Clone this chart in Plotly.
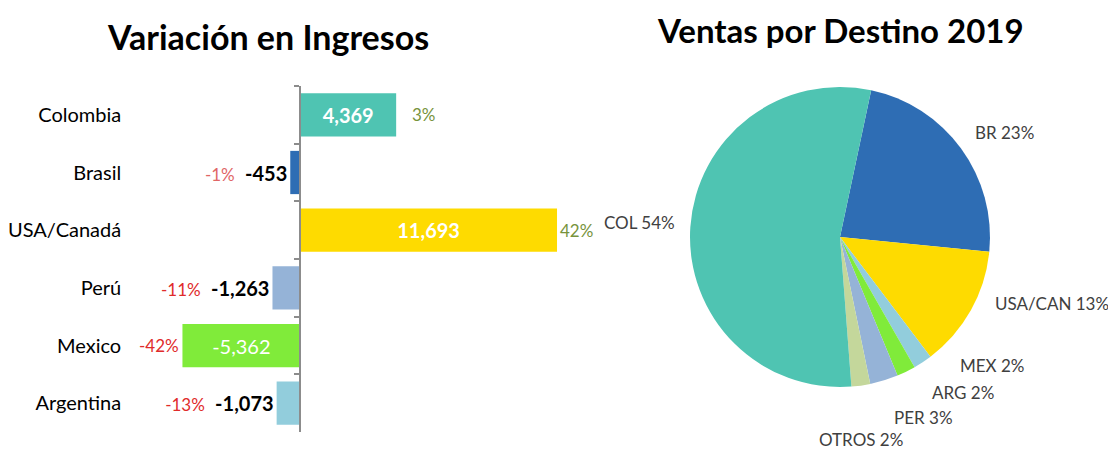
import math
import plotly.graph_objects as go

# ---- data: variación en ingresos ----
paises = ["Colombia", "Brasil", "USA/Canadá", "Perú", "Mexico", "Argentina"]
variacion = [4369, -453, 11693, -1263, -5362, -1073]
variacion_pct = [3, -1, 42, -11, -42, -13]
colores_bar = ["#4fc4b2", "#2e6db4", "#fedb00", "#95b3d7", "#80eb3a", "#92cddc"]

# ---- data: ventas por destino 2019 ----
destinos = ["BR", "USA/CAN", "MEX", "ARG", "PER", "OTROS", "COL"]
ventas_pct = [23, 13, 2, 2, 3, 2, 54]
colores_pie = ["#2e6db4", "#fedb00", "#92cddc", "#80eb3a", "#95b3d7", "#c4d79b", "#4fc4b2"]

W, H = 1116, 449
OFF = 8  # page body margin pushes the figure right/down
FONT = "Lato"
GREEN_TXT = "#77933c"
RED_TXT = "#e02b2b"


def px(x):
    return (x - OFF) / W


def py(y):
    return 1 - (y - OFF) / H


# which value labels sit inside the bar
inside = [abs(v) > 2000 for v in variacion]

x_range = [-7750, 13650]
x_dom = [px(130), px(600)]
# paper position of the zero line -> where the category axis is drawn
zero_pos = x_dom[0] + (0 - x_range[0]) / (x_range[1] - x_range[0]) * (x_dom[1] - x_dom[0])

bar_text, bar_pos, bar_font = [], [], []
for v, p, ins in zip(variacion, variacion_pct, inside):
    if ins:
        bar_text.append(f"<b>{v:,}</b>" if v > 0 else f"{v:,}")
        bar_pos.append("inside")
        bar_font.append("white")
    else:
        col = "#e06666" if p == -1 else RED_TXT
        bar_text.append(f"<span style='color:{col};font-size:17px'>{p}%</span>&nbsp;&nbsp;<b>{v:,}</b>")
        bar_pos.append("outside")
        bar_font.append("black")

fig = go.Figure()
fig.add_trace(go.Bar(
    x=variacion, y=paises, orientation="h",
    marker=dict(color=colores_bar, line=dict(width=0)),
    text=bar_text, textposition=bar_pos,
    insidetextanchor="middle",
    textfont=dict(family=FONT, size=20, color=bar_font),
    cliponaxis=False,
    hoverinfo="x+y",
    showlegend=False,
))

# percentage labels beside the bars that carry their value inside
annotations = []
for v, p, ins, name in zip(variacion, variacion_pct, inside, paises):
    if not ins:
        continue
    annotations.append(dict(
        x=v, y=name, xref="x", yref="y",
        text=f"{p}%", showarrow=False,
        xanchor="left" if v > 0 else "right",
        xshift=(14 if v < 10000 else 1) if v > 0 else -1,
        font=dict(family=FONT, size=17, color=GREEN_TXT if p > 0 else RED_TXT),
    ))

# ---- pie ----
pie_cx, pie_cy, pie_r = 840, 237, 150
rotation = 12
fig.add_trace(go.Pie(
    labels=destinos, values=ventas_pct,
    marker=dict(colors=colores_pie, line=dict(width=0)),
    sort=False, direction="clockwise", rotation=rotation,
    textinfo="none",
    domain=dict(x=[px(pie_cx - pie_r), px(pie_cx + pie_r)],
                y=[py(pie_cy + pie_r), py(pie_cy - pie_r)]),
    showlegend=False,
))

# slice labels: start at the rim midpoint of each slice, then nudged (px)
label_shift = [(12, -16), (22, -7), (35, 3), (24, 21), (8, 37), (0, 54), (-13, -5)]
label_anchor = ["left", "left", "left", "left", "left", "center", "right"]
total = sum(ventas_pct)
start = rotation
for lab, v, (dx, dy), anc in zip(destinos, ventas_pct, label_shift, label_anchor):
    mid = math.radians(start + v / total * 360 / 2)
    start += v / total * 360
    lx = pie_cx + pie_r * math.sin(mid)
    ly = pie_cy - pie_r * math.cos(mid)
    annotations.append(dict(
        x=px(lx), y=py(ly), xref="paper", yref="paper",
        xshift=dx, yshift=-dy,
        text=f"{lab} {v}%", showarrow=False,
        xanchor=anc, yanchor="middle",
        font=dict(family=FONT, size=17, color="#404040"),
    ))

annotations += [
    dict(text="<b>Variación en Ingresos</b>", x=px(268), y=py(36),
         xref="paper", yref="paper", showarrow=False,
         xanchor="center", yanchor="middle",
         font=dict(family=FONT, size=34, color="black")),
    dict(text="<b>Ventas por Destino 2019</b>", x=px(840), y=py(30),
         xref="paper", yref="paper", showarrow=False,
         xanchor="center", yanchor="middle",
         font=dict(family=FONT, size=33, color="black")),
]

fig.update_layout(
    width=W, height=H,
    margin=dict(l=0, r=0, t=0, b=0),
    paper_bgcolor="white", plot_bgcolor="white",
    bargap=0.25,
    xaxis=dict(domain=x_dom, range=x_range, visible=False),
    yaxis=dict(
        domain=[py(432), py(86)],
        autorange="reversed",
        anchor="free", position=zero_pos,
        showline=True, linecolor="#8c8c8c", linewidth=2,
        ticks="outside", tickson="boundaries", ticklen=5, tickcolor="#8c8c8c", tickwidth=2,
        ticklabelstandoff=174,
        tickfont=dict(family=FONT, size=20, color="black"),
        showgrid=False, zeroline=False,
    ),
    annotations=annotations,
)

fig.write_html("out.html")
